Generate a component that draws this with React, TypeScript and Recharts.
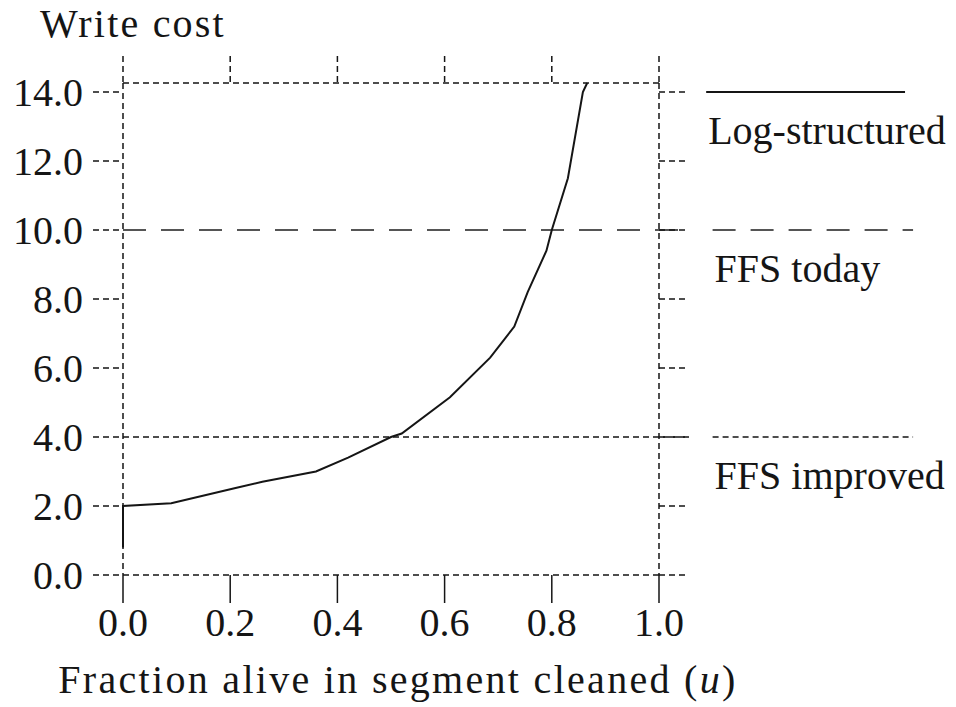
import { LineChart, Line, XAxis, YAxis, ReferenceLine } from 'recharts';

// fraction of live data in the cleaned segment
const uValues = [0, 0, 0.09, 0.21, 0.26, 0.36, 0.42, 0.5, 0.52, 0.61, 0.685, 0.73, 0.755, 0.79, 0.8, 0.83, 0.858, 0.866];
// write cost of the log-structured system
const logCost = [0.8, 2.0, 2.08, 2.52, 2.7, 3.0, 3.4, 4.0, 4.1, 5.15, 6.3, 7.2, 8.2, 9.4, 10.0, 11.5, 14.0, 14.26];

const ffsToday = 10.0;
const ffsImproved = 4.0;
const logLegendLevel = 14.0;

const xTicks = [0, 0.2, 0.4, 0.6, 0.8, 1.0];
const yTicks = [0, 2, 4, 6, 8, 10, 12, 14];

// where the key samples sit, in u units (right of the frame)
const keyFrom = 1.1;
const keyTo = 1.474;
const lineEnd = 1.06;

const data = uValues.map((u, i) => ({ u, cost: logCost[i] }));

const FONT = '"Liberation Serif", "Times New Roman", serif';
const INK = '#151515';
const DOTS = '6 4';

const KeyLabel = (text: string) => (props: any) => {
  const vb = props.viewBox || {};
  return (
    <text x={vb.x + 2} y={vb.y + 52} fontFamily={FONT} fontSize={40} fill={INK}>
      {text}
    </text>
  );
};

export default function App() {
  const tickStyle = { fontFamily: FONT, fontSize: 40, fill: INK };
  return (
    <div style={{ position: 'absolute', left: 0, top: 0, background: '#fff' }}>
      <LineChart width={956} height={707} data={data} margin={{ top: 0, right: 0, bottom: 0, left: 0 }}>
        <XAxis
          dataKey="u"
          type="number"
          domain={[0, 1]}
          ticks={xTicks}
          interval={0}
          height={132}
          tickSize={28}
          tickMargin={5}
          tickFormatter={(v: number) => v.toFixed(1)}
          tick={tickStyle}
          axisLine={{ stroke: INK, strokeDasharray: DOTS, strokeWidth: 1.5 }}
          tickLine={{ stroke: INK, strokeWidth: 1.5 }}
          label={(p: any) => {
            const vb = p.viewBox;
            return (
              <text x={vb.x + vb.width / 2 + 7} y={vb.y + 118} textAnchor="middle" fontFamily={FONT} fontSize={40} letterSpacing={2.3} fill={INK}>
                Fraction alive in segment cleaned (<tspan fontStyle="italic">u</tspan>)
              </text>
            );
          }}
        />
        <XAxis
          xAxisId="top"
          dataKey="u"
          orientation="top"
          type="number"
          domain={[0, 1]}
          allowDataOverflow
          ticks={xTicks}
          interval={0}
          height={83}
          tickSize={27}
          tickFormatter={() => ''}
          axisLine={{ stroke: INK, strokeDasharray: DOTS, strokeWidth: 1.5 }}
          tickLine={{ stroke: INK, strokeDasharray: DOTS, strokeWidth: 1.5 }}
        />
        <YAxis
          type="number"
          domain={[0, 14.26]}
          ticks={yTicks}
          interval={0}
          width={123}
          tickSize={30}
          tickMargin={10}
          tickFormatter={(v: number) => v.toFixed(1)}
          tick={tickStyle}
          axisLine={{ stroke: INK, strokeDasharray: DOTS, strokeWidth: 1.5 }}
          tickLine={{ stroke: INK, strokeDasharray: DOTS, strokeWidth: 1.5 }}
          label={(p: any) => {
            const vb = p.viewBox;
            return (
              <text x={vb.x + 40} y={vb.y - 46} fontFamily={FONT} fontSize={40} letterSpacing={2.2} fill={INK}>
                Write cost
              </text>
            );
          }}
        />
        <YAxis
          yAxisId="right"
          orientation="right"
          type="number"
          domain={[0, 14.26]}
          allowDataOverflow
          ticks={yTicks}
          interval={0}
          width={297}
          tickSize={26}
          tickFormatter={() => ''}
          axisLine={{ stroke: INK, strokeDasharray: DOTS, strokeWidth: 1.5 }}
          tickLine={{ stroke: INK, strokeDasharray: DOTS, strokeWidth: 1.5 }}
        />

        <ReferenceLine
          segment={[{ x: 0, y: ffsToday }, { x: lineEnd, y: ffsToday }]}
          ifOverflow="visible"
          stroke="#555"
          strokeWidth={2}
          strokeDasharray="23 15"
        />
        <ReferenceLine
          segment={[{ x: 0, y: ffsImproved }, { x: lineEnd, y: ffsImproved }]}
          ifOverflow="visible"
          stroke={INK}
          strokeWidth={1.5}
          strokeDasharray={DOTS}
        />

        <ReferenceLine
          segment={[{ x: keyFrom - 0.012, y: logLegendLevel }, { x: keyTo - 0.015, y: logLegendLevel }]}
          ifOverflow="visible"
          stroke={INK}
          strokeWidth={2}
          label={KeyLabel('Log-structured')}
        />
        <ReferenceLine
          segment={[{ x: keyFrom, y: ffsToday }, { x: keyTo, y: ffsToday }]}
          ifOverflow="visible"
          stroke="#555"
          strokeWidth={2}
          strokeDasharray="23 15"
          label={KeyLabel('FFS today')}
        />
        <ReferenceLine
          segment={[{ x: keyFrom, y: ffsImproved }, { x: keyTo, y: ffsImproved }]}
          ifOverflow="visible"
          stroke={INK}
          strokeWidth={1.5}
          strokeDasharray={DOTS}
          label={KeyLabel('FFS improved')}
        />

        <Line
          dataKey="cost"
          type="linear"
          stroke={INK}
          strokeWidth={2}
          dot={false}
          isAnimationActive={false}
        />
      </LineChart>
    </div>
  );
}
